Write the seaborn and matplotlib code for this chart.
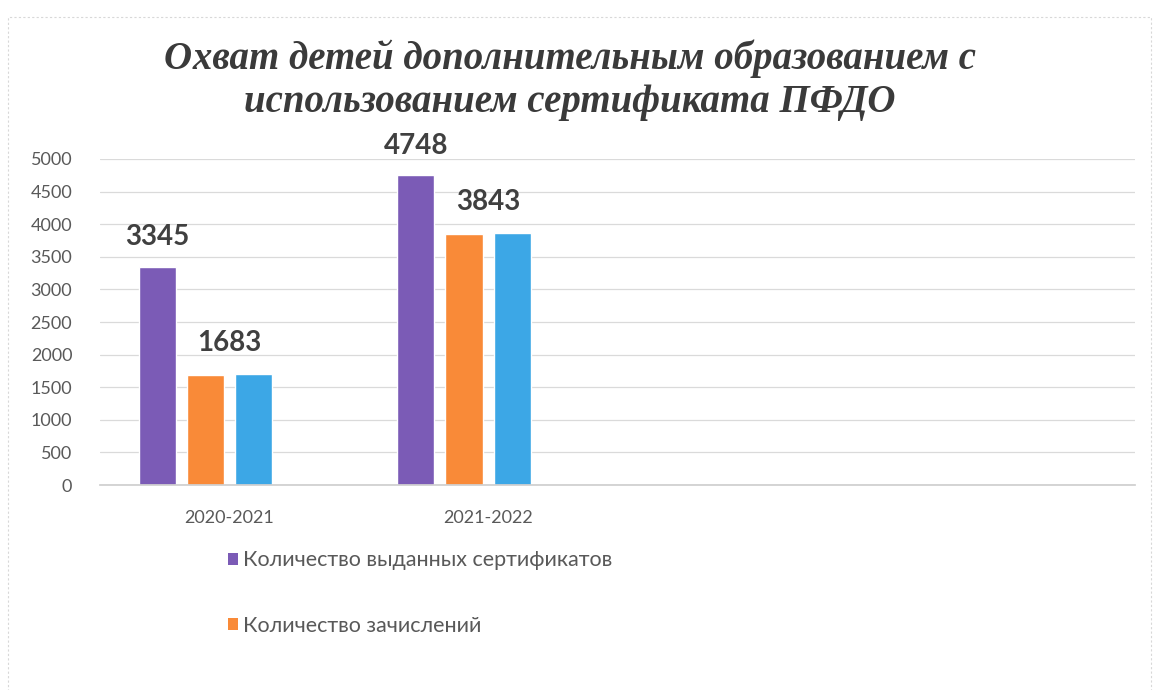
import numpy as np
import pandas as pd
import seaborn as sns
import matplotlib.pyplot as plt
from matplotlib.patches import Patch, Rectangle

# Data
years = ["2020-2021", "2021-2022"]
series = ["Количество выданных сертификатов", "Количество зачислений", "Ряд 3", "Ряд 4"]
issued = [3345, 4748]
enrolled = [1683, 3843]
third = [1700, 3860]
fourth = [np.nan, np.nan]
colors = ["#7B5BB6", "#F98A38", "#3CA7E6", "#A5A5A5"]

df = pd.DataFrame({
    "year": years * 4,
    "series": np.repeat(series, len(years)),
    "value": issued + enrolled + third + fourth,
})

sns.set_theme(style="white")
plt.rcParams["font.family"] = ["Lato", "DejaVu Sans"]

fig = plt.figure(figsize=(11.54, 6.9), dpi=100)
ax = fig.add_axes([0.0867, 0.297, 0.8968, 0.4726])

sns.barplot(data=df, x="year", y="value", hue="series", hue_order=series,
            palette=colors, width=0.745, gap=0.23, legend=False, ax=ax,
            saturation=1, errorbar=None)

ax.set_xlim(-0.5, 3.5)
ax.set_ylim(0, 5000)
ax.set_yticks(np.arange(0, 5001, 500))
ax.yaxis.grid(True, color="#DADADA", linewidth=0.9)
ax.set_axisbelow(True)
for s in ["top", "right", "left"]:
    ax.spines[s].set_visible(False)
ax.spines["bottom"].set_color("#CFCFCF")
ax.tick_params(axis="both", length=0, labelsize=13, colors="#595959")
ax.tick_params(axis="y", pad=20)
ax.tick_params(axis="x", pad=18)
ax.set_xlabel("")
ax.set_ylabel("")

# data labels: first series above its bars, second between orange and blue bars
bars = [c for c in ax.containers]
ax.bar_label(bars[0], labels=[str(v) for v in issued], padding=12,
             fontsize=20, fontweight="bold", color="#404040")
for i, v in enumerate(enrolled):
    p1 = bars[1].patches[i]
    p2 = bars[2].patches[i]
    xc = (p1.get_x() + p1.get_width() / 2 + p2.get_x() + p2.get_width() / 2) / 2
    ax.annotate(str(v), (xc, max(p1.get_height(), p2.get_height())),
                xytext=(0, 13), textcoords="offset points", ha="center", va="bottom",
                fontsize=20, fontweight="bold", color="#404040")

fig.text(0.494, 0.884, "Охват детей дополнительным образованием с\nиспользованием сертификата ПФДО",
         ha="center", va="center", fontsize=28, fontweight="bold", fontstyle="italic",
         family="Liberation Serif", color="#3A3A3A", linespacing=1.2)

handles = [Patch(facecolor=colors[0], edgecolor="none"), Patch(facecolor=colors[1], edgecolor="none")]
fig.legend(handles, series[:2], loc="upper left", bbox_to_anchor=(0.188, 0.218),
           frameon=False, fontsize=15.5, labelcolor="#595959", labelspacing=2.1,
           handlelength=0.5, handleheight=0.5, handletextpad=0.2, borderpad=0)

# faint chart frame
fig.patches.append(Rectangle((0.007, -0.05), 0.99, 1.025, transform=fig.transFigure,
                             fill=False, edgecolor="#D8D8D8", linewidth=0.8, linestyle=(0, (2, 2))))

fig.savefig("out.png", dpi=100)
